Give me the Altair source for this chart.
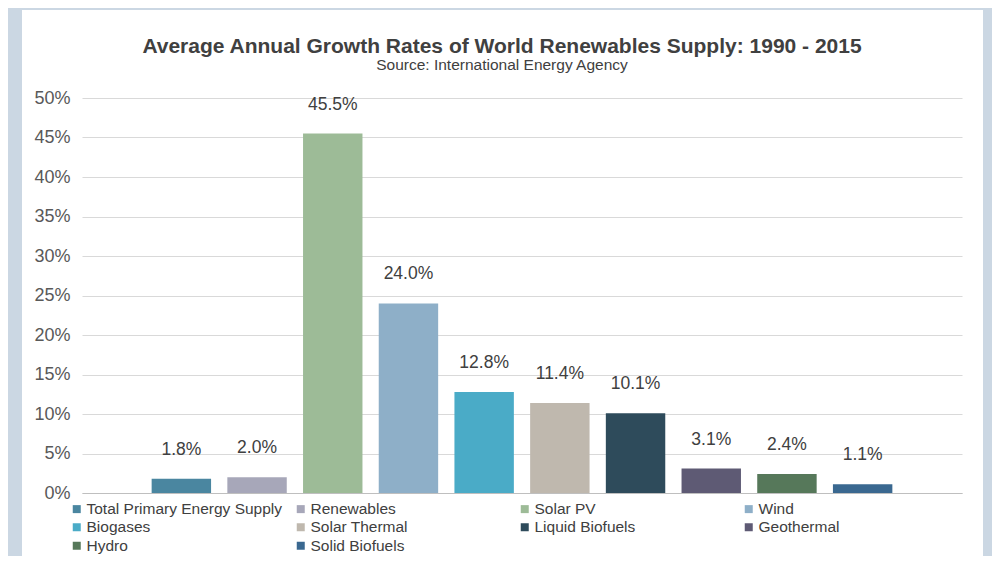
import altair as alt
import pandas as pd

categories = [
    "Total Primary Energy Supply", "Renewables", "Solar PV", "Wind", "Biogases",
    "Solar Thermal", "Liquid Biofuels", "Geothermal", "Hydro", "Solid Biofuels",
]
values = [1.8, 2.0, 45.5, 24.0, 12.8, 11.4, 10.1, 3.1, 2.4, 1.1]
colors = [
    "#4a86a0", "#a7a7b9", "#9dbb97", "#8eafc8", "#4aabc7",
    "#bfb8ae", "#2e4b5b", "#5e5a74", "#56785a", "#3a6890",
]
y_ticks = [0, 5, 10, 15, 20, 25, 30, 35, 40, 45, 50]

BG = "#cbd7e3"
W, H = 880, 395
PAD_L, PAD_T, PAD_R, PAD_B = 74, 90, 30, 63

df = pd.DataFrame({"source": categories, "growth": values})
base = alt.Chart(df)

x_enc = alt.X(
    "source:N", sort=categories,
    scale=alt.Scale(paddingInner=0.215, paddingOuter=0.92),
    axis=alt.Axis(labels=False, ticks=False, title=None, grid=False,
                  domainColor="#bfbfbf", domainWidth=1),
)
y_enc = alt.Y(
    "growth:Q", scale=alt.Scale(domain=[0, 50], nice=False),
    axis=alt.Axis(values=y_ticks, labelExpr="datum.value + '%'", title=None,
                  ticks=False, domain=False, gridColor="#d9d9d9",
                  labelFontSize=18, labelColor="#595959", labelPadding=12,
                  labelOverlap=False),
)

bars = base.mark_bar().encode(
    x=x_enc,
    y=y_enc,
    color=alt.Color(
        "source:N",
        scale=alt.Scale(domain=categories, range=colors),
        legend=alt.Legend(
            title=None, orient="none", legendX=-13, legendY=403, columns=4,
            direction="horizontal",
            symbolType="square", symbolSize=64, symbolStrokeWidth=0,
            labelFontSize=15.5, labelColor="#404040", gridAlign="all",
            columnPadding=10, rowPadding=1.5, labelOffset=2, labelLimit=400,
        ),
    ),
)

labels = base.transform_calculate(
    lbl="format(datum.growth, '.1f') + '%'"
).mark_text(dy=-29, fontSize=17.5, color="#404040", baseline="middle").encode(
    x=x_enc,
    y=y_enc,
    text="lbl:N",
)

one = pd.DataFrame({"k": [0]})
strip_left = alt.Chart(one).mark_rect(color=BG).encode(
    x=alt.value(-PAD_L), x2=alt.value(-60), y=alt.value(-PAD_T), y2=alt.value(H + PAD_B))
strip_top = alt.Chart(one).mark_rect(color=BG).encode(
    x=alt.value(-PAD_L), x2=alt.value(W + PAD_R), y=alt.value(-PAD_T), y2=alt.value(-88))
strip_right = alt.Chart(one).mark_rect(color=BG).encode(
    x=alt.value(901), x2=alt.value(W + PAD_R), y=alt.value(-PAD_T), y2=alt.value(H + PAD_B))

chart = alt.layer(bars, labels, strip_left, strip_top, strip_right).properties(
    width=W, height=H,
    padding={"left": PAD_L, "top": PAD_T, "right": PAD_R, "bottom": PAD_B},
    autosize=alt.AutoSizeParams(type="none"),
    background="white",
    title=alt.Title(
        text="Average Annual Growth Rates of World Renewables Supply: 1990 - 2015",
        subtitle="Source: International Energy Agency",
        fontSize=21, fontWeight="bold", color="#404040",
        subtitleFontSize=15.5, subtitleColor="#404040",
        anchor="middle", offset=0, dx=-20, dy=65, subtitlePadding=1,
    ),
).configure(font="Liberation Sans").configure_view(stroke=None)

chart.save("out.html", embed_options={"renderer": "svg", "actions": False})
